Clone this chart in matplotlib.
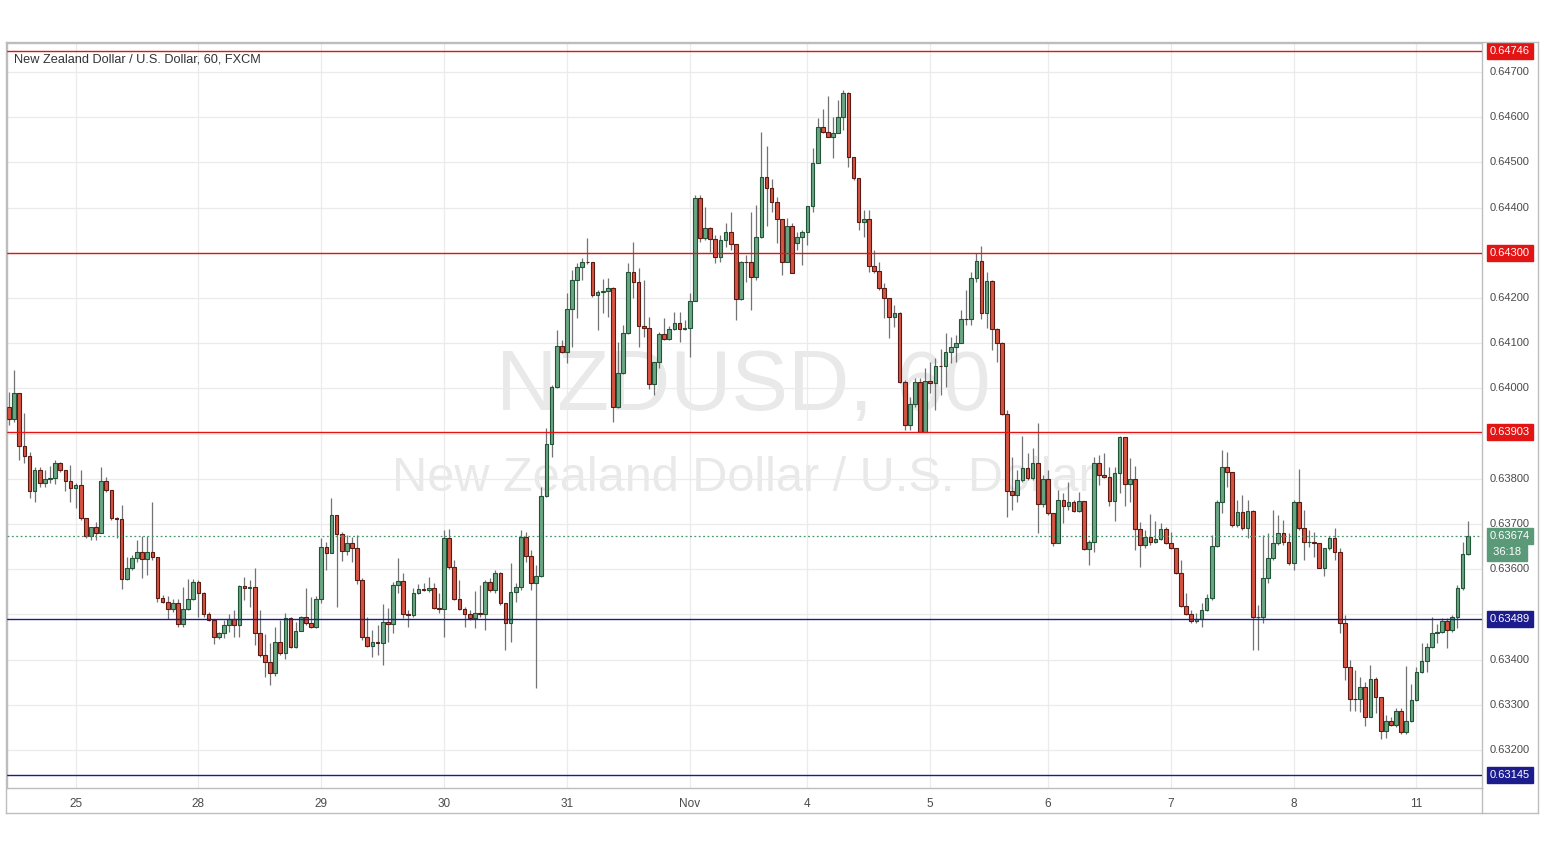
import matplotlib
matplotlib.use("Agg")
import matplotlib.pyplot as plt
import matplotlib.transforms as mtransforms
from matplotlib.patches import Rectangle
from matplotlib.lines import Line2D

# ---------------- data (NZD/USD, 1h, FXCM) ----------------
first_open = 0.63959
closes = [
0.63932,0.63990,0.63873,0.63850,0.63773,0.63819,0.63791,0.63800,0.63802,0.63835,
0.63819,0.63795,0.63780,0.63786,0.63713,0.63673,0.63693,0.63680,0.63795,0.63775,
0.63713,0.63711,0.63578,0.63603,0.63625,0.63638,0.63623,0.63638,0.63627,0.63536,
0.63527,0.63512,0.63525,0.63479,0.63512,0.63534,0.63572,0.63547,0.63501,0.63488,
0.63450,0.63459,0.63477,0.63490,0.63477,0.63563,0.63558,0.63561,0.63459,0.63410,
0.63395,0.63370,0.63439,0.63415,0.63492,0.63428,0.63463,0.63494,0.63481,0.63472,
0.63534,0.63649,0.63636,0.63720,0.63678,0.63640,0.63658,0.63647,0.63576,0.63450,
0.63430,0.63439,0.63437,0.63483,0.63479,0.63565,0.63574,0.63501,0.63499,0.63547,
0.63556,0.63555,0.63558,0.63514,0.63512,0.63669,0.63605,0.63534,0.63512,0.63501,
0.63492,0.63503,0.63502,0.63572,0.63554,0.63592,0.63525,0.63481,0.63550,0.63561,
0.63671,0.63629,0.63569,0.63585,0.63762,0.63877,0.64003,0.64094,0.64081,0.64176,
0.64240,0.64269,0.64280,0.64279,0.64207,0.64213,0.64215,0.64222,0.63959,0.64034,
0.64123,0.64258,0.64235,0.64138,0.64134,0.64010,0.64058,0.64120,0.64109,0.64131,
0.64145,0.64131,0.64134,0.64193,0.64421,0.64333,0.64355,0.64331,0.64291,0.64328,
0.64346,0.64319,0.64198,0.64280,0.64279,0.64246,0.64335,0.64468,0.64443,0.64412,
0.64375,0.64280,0.64359,0.64256,0.64335,0.64346,0.64404,0.64499,0.64578,0.64567,
0.64556,0.64565,0.64600,0.64654,0.64512,0.64465,0.64368,0.64375,0.64271,0.64260,
0.64222,0.64200,0.64158,0.64167,0.64014,0.63919,0.63965,0.64014,0.63904,0.64016,
0.64012,0.64050,0.64049,0.64081,0.64092,0.64100,0.64154,0.64153,0.64244,0.64282,
0.64167,0.64238,0.64131,0.64100,0.63943,0.63773,0.63764,0.63797,0.63824,0.63802,
0.63835,0.63744,0.63800,0.63724,0.63658,0.63753,0.63740,0.63749,0.63729,0.63751,
0.63645,0.63660,0.63835,0.63808,0.63804,0.63751,0.63813,0.63892,0.63788,0.63800,
0.63689,0.63654,0.63671,0.63660,0.63667,0.63689,0.63658,0.63647,0.63592,0.63519,
0.63501,0.63485,0.63490,0.63510,0.63536,0.63651,0.63749,0.63826,0.63815,0.63698,
0.63727,0.63691,0.63729,0.63494,0.63495,0.63581,0.63625,0.63658,0.63680,0.63660,
0.63614,0.63749,0.63691,0.63660,0.63661,0.63658,0.63603,0.63647,0.63669,0.63638,
0.63481,0.63384,0.63313,0.63312,0.63339,0.63273,0.63357,0.63317,0.63242,0.63264,
0.63255,0.63286,0.63240,0.63264,0.63311,0.63373,0.63397,0.63428,0.63459,0.63461,
0.63485,0.63465,0.63494,0.63558,0.63634,0.63674]
highs = [
0.63992,0.64041,0.63990,0.63946,0.63859,0.63826,0.63826,0.63819,0.63828,0.63842,
0.63837,0.63819,0.63831,0.63791,0.63819,0.63713,0.63693,0.63704,0.63826,0.63804,
0.63775,0.63715,0.63742,0.63627,0.63631,0.63665,0.63673,0.63673,0.63749,0.63627,
0.63543,0.63541,0.63534,0.63534,0.63561,0.63578,0.63578,0.63576,0.63550,0.63505,
0.63490,0.63461,0.63488,0.63501,0.63510,0.63565,0.63583,0.63576,0.63603,0.63510,
0.63457,0.63437,0.63472,0.63488,0.63503,0.63494,0.63483,0.63496,0.63558,0.63538,
0.63541,0.63669,0.63660,0.63758,0.63720,0.63682,0.63676,0.63671,0.63676,0.63581,
0.63494,0.63465,0.63477,0.63523,0.63514,0.63572,0.63625,0.63592,0.63510,0.63558,
0.63567,0.63569,0.63583,0.63569,0.63547,0.63687,0.63689,0.63620,0.63576,0.63516,
0.63510,0.63552,0.63565,0.63576,0.63581,0.63598,0.63594,0.63525,0.63614,0.63569,
0.63687,0.63682,0.63642,0.63609,0.63782,0.63912,0.64008,0.64129,0.64107,0.64211,
0.64262,0.64277,0.64288,0.64333,0.64280,0.64218,0.64242,0.64244,0.64224,0.64103,
0.64140,0.64277,0.64324,0.64266,0.64240,0.64158,0.64058,0.64124,0.64156,0.64138,
0.64169,0.64169,0.64151,0.64211,0.64428,0.64428,0.64401,0.64357,0.64339,0.64339,
0.64366,0.64390,0.64319,0.64281,0.64295,0.64390,0.64406,0.64567,0.64536,0.64463,
0.64423,0.64375,0.64377,0.64366,0.64346,0.64350,0.64404,0.64532,0.64598,0.64618,
0.64647,0.64600,0.64638,0.64660,0.64656,0.64512,0.64465,0.64395,0.64395,0.64306,
0.64280,0.64233,0.64200,0.64185,0.64169,0.64019,0.63981,0.64023,0.64023,0.64045,
0.64058,0.64067,0.64087,0.64123,0.64114,0.64118,0.64173,0.64218,0.64258,0.64300,
0.64315,0.64258,0.64240,0.64134,0.64103,0.63952,0.63848,0.63819,0.63895,0.63857,
0.63868,0.63923,0.63808,0.63819,0.63724,0.63775,0.63769,0.63793,0.63753,0.63771,
0.63751,0.63665,0.63848,0.63853,0.63857,0.63826,0.63826,0.63895,0.63892,0.63846,
0.63828,0.63704,0.63687,0.63722,0.63707,0.63702,0.63693,0.63682,0.63647,0.63620,
0.63547,0.63510,0.63503,0.63525,0.63545,0.63676,0.63753,0.63864,0.63859,0.63815,
0.63753,0.63764,0.63753,0.63731,0.63521,0.63676,0.63680,0.63731,0.63720,0.63709,
0.63680,0.63753,0.63822,0.63731,0.63687,0.63682,0.63658,0.63648,0.63673,0.63691,
0.63647,0.63499,0.63399,0.63377,0.63361,0.63350,0.63388,0.63361,0.63317,0.63277,
0.63273,0.63293,0.63293,0.63386,0.63346,0.63384,0.63437,0.63437,0.63494,0.63479,
0.63492,0.63492,0.63499,0.63565,0.63660,0.63707]
lows = [
0.63919,0.63926,0.63842,0.63835,0.63758,0.63749,0.63782,0.63782,0.63791,0.63788,
0.63815,0.63773,0.63749,0.63735,0.63709,0.63669,0.63665,0.63665,0.63680,0.63771,
0.63709,0.63669,0.63556,0.63576,0.63598,0.63616,0.63581,0.63587,0.63620,0.63527,
0.63525,0.63490,0.63505,0.63472,0.63472,0.63510,0.63532,0.63494,0.63494,0.63485,
0.63434,0.63446,0.63448,0.63461,0.63450,0.63450,0.63532,0.63516,0.63432,0.63406,
0.63361,0.63344,0.63364,0.63410,0.63401,0.63426,0.63426,0.63463,0.63477,0.63470,
0.63470,0.63525,0.63598,0.63636,0.63516,0.63618,0.63631,0.63616,0.63567,0.63443,
0.63428,0.63406,0.63410,0.63388,0.63439,0.63459,0.63547,0.63492,0.63472,0.63494,
0.63545,0.63552,0.63550,0.63512,0.63503,0.63450,0.63601,0.63532,0.63510,0.63472,
0.63488,0.63470,0.63494,0.63465,0.63550,0.63547,0.63521,0.63421,0.63439,0.63527,
0.63554,0.63616,0.63554,0.63337,0.63583,0.63760,0.63848,0.64001,0.64078,0.64056,
0.64092,0.64156,0.64240,0.64275,0.64202,0.64129,0.64167,0.64158,0.63926,0.63957,
0.64032,0.64120,0.64200,0.64092,0.64114,0.63999,0.63986,0.64045,0.64107,0.64107,
0.64129,0.64103,0.64129,0.64069,0.64193,0.64324,0.64328,0.64302,0.64277,0.64280,
0.64313,0.64306,0.64151,0.64196,0.64235,0.64173,0.64240,0.64333,0.64359,0.64390,
0.64322,0.64251,0.64280,0.64255,0.64306,0.64273,0.64317,0.64390,0.64499,0.64566,
0.64556,0.64510,0.64565,0.64572,0.64490,0.64461,0.64350,0.64335,0.64258,0.64255,
0.64218,0.64156,0.64112,0.64136,0.64012,0.63908,0.63908,0.63959,0.63904,0.63904,
0.63990,0.63952,0.63986,0.64003,0.64056,0.64058,0.64100,0.64140,0.64140,0.64235,
0.64154,0.64134,0.64085,0.64058,0.63941,0.63715,0.63731,0.63749,0.63793,0.63797,
0.63797,0.63680,0.63738,0.63720,0.63651,0.63658,0.63702,0.63731,0.63727,0.63727,
0.63642,0.63609,0.63638,0.63786,0.63802,0.63740,0.63707,0.63769,0.63740,0.63749,
0.63642,0.63605,0.63647,0.63654,0.63658,0.63665,0.63656,0.63645,0.63589,0.63516,
0.63499,0.63481,0.63481,0.63472,0.63508,0.63532,0.63649,0.63724,0.63782,0.63693,
0.63693,0.63687,0.63669,0.63421,0.63421,0.63481,0.63569,0.63620,0.63654,0.63654,
0.63609,0.63598,0.63687,0.63620,0.63649,0.63627,0.63602,0.63585,0.63642,0.63620,
0.63459,0.63355,0.63286,0.63286,0.63284,0.63253,0.63273,0.63282,0.63224,0.63227,
0.63253,0.63251,0.63235,0.63235,0.63262,0.63308,0.63370,0.63373,0.63426,0.63437,
0.63459,0.63426,0.63462,0.63470,0.63554,0.63631]
# opening gaps that differ from the previous close
open_overrides = {154: 0.64322}

day_labels = ["25", "28", "29", "30", "31", "Nov", "4", "5", "6", "7", "8", "11"]
day_index = [13, 37, 61, 85, 109, 133, 156, 180, 203, 227, 251, 275]

resistance_levels = [0.64746, 0.64300, 0.63903]
support_levels = [0.63489, 0.63145]
last_price = 0.63674
countdown = "36:18"
price_ticks = [0.632, 0.633, 0.634, 0.635, 0.636, 0.637, 0.638, 0.639,
               0.640, 0.641, 0.642, 0.643, 0.644, 0.645, 0.646, 0.647]
title = "New Zealand Dollar / U.S. Dollar, 60, FXCM"
wm_big = "NZDUSD, 60"
wm_small = "New Zealand Dollar / U.S. Dollar"

opens = [first_open] + closes[:-1]
for k, v in open_overrides.items():
    opens[k] = v

# ---------------- figure ----------------
W, H = 1545, 851
fig = plt.figure(figsize=(W / 100, H / 100), dpi=100)
fig.patch.set_facecolor("white")
plt.rcParams["font.family"] = ["Liberation Sans", "DejaVu Sans"]

pl, pr, pt, pb = 7, 1482, 43, 788
ax = fig.add_axes([pl / W, 1 - pb / H, (pr - pl) / W, (pb - pt) / H])
ax.set_facecolor("white")

UP, DOWN = "#6ba583", "#d75442"
UP_E, DOWN_E = "#225437", "#5b1a13"
WICK = "#737375"

n = len(closes)
ax.set_xlim(-0.4, n - 1 + 2.8)
ymax, ymin = 0.64764, 0.63116
ax.set_ylim(ymin, ymax)

# watermark
ax.text(0.499, 0.537, wm_big, transform=ax.transAxes, ha="center", va="center",
        fontsize=61, color="#e9e9e9", zorder=0)
ax.text(0.499, 0.415, wm_small, transform=ax.transAxes, ha="center", va="center",
        fontsize=35, color="#e9e9e9", zorder=0)

# grid
for p in price_ticks:
    ax.axhline(p, color="#ebebeb", lw=0.9, zorder=0.5)
for d in day_index:
    ax.axvline(d, color="#ebebeb", lw=0.9, zorder=0.5)

# candles
bw = 0.72
for i in range(n):
    o, c = opens[i], closes[i]
    h = max(highs[i], o, c)
    l = min(lows[i], o, c)
    up = c >= o
    ax.vlines(i, l, h, color=WICK, lw=0.9, zorder=2)
    bottom = min(o, c)
    height = max(abs(c - o), 0.000012)
    ax.add_patch(Rectangle((i - bw / 2, bottom), bw, height,
                           facecolor=UP if up else DOWN,
                           edgecolor=UP_E if up else DOWN_E, lw=0.8, zorder=3))

# horizontal levels
for lv in resistance_levels:
    ax.axhline(lv, color="#e31414", lw=1.0, zorder=4)
for lv in support_levels:
    ax.axhline(lv, color="#1c1c8c", lw=1.0, zorder=4)
ax.axhline(last_price, color="#4d9470", lw=0.9, ls=(0, (1.5, 2)), zorder=4)

# axes styling
for s in ax.spines.values():
    s.set_color("#bdbdbd")
    s.set_linewidth(1.0)
ax.set_yticks([])
ax.set_xticks(day_index)
ax.set_xticklabels(day_labels)
ax.tick_params(axis="x", length=0, pad=7, labelsize=8.5, colors="#4a4a4a")

# price scale labels (those covered by a level tag are hidden, as in the source)
trans = mtransforms.blended_transform_factory(ax.transAxes, ax.transData)
xoff = 1 + 8 / (pr - pl)
tags = resistance_levels + support_levels + [last_price]
for p in price_ticks:
    if any(abs(p - t) < 0.00012 for t in tags):
        continue
    ax.text(xoff, p, f"{p:.5f}", transform=trans, ha="left", va="center",
            fontsize=8, color="#4a4a4a", clip_on=False)

def tag(price, color, text=None, dy=0.0):
    ax.text(xoff, price + dy, text if text else f"{price:.5f}", transform=trans,
            ha="left", va="center", fontsize=8, color="white", clip_on=False,
            zorder=10,
            bbox=dict(boxstyle="square,pad=0.28", facecolor=color, edgecolor=color))

for lv in resistance_levels:
    tag(lv, "#e31414")
for lv in support_levels:
    tag(lv, "#1c1c8c")
tag(last_price, "#5b9a78")
tag(last_price, "#5b9a78", text=" " + countdown + " ", dy=-0.00037)

# title
fig.text(14 / W, 1 - 60 / H, title, ha="left", va="center", fontsize=9.2,
         color="#333333")

# outer frame
def fline(x0, y0, x1, y1, c="#bdbdbd"):
    fig.add_artist(Line2D([x0 / W, x1 / W], [1 - y0 / H, 1 - y1 / H],
                          color=c, lw=1.0))
fline(6, 42, 1538, 42)
fline(6, 813, 1538, 813)
fline(6, 42, 6, 813)
fline(1538, 42, 1538, 813)
fline(1482, 788, 1482, 813)

fig.savefig("out.png", dpi=100, facecolor="white")
